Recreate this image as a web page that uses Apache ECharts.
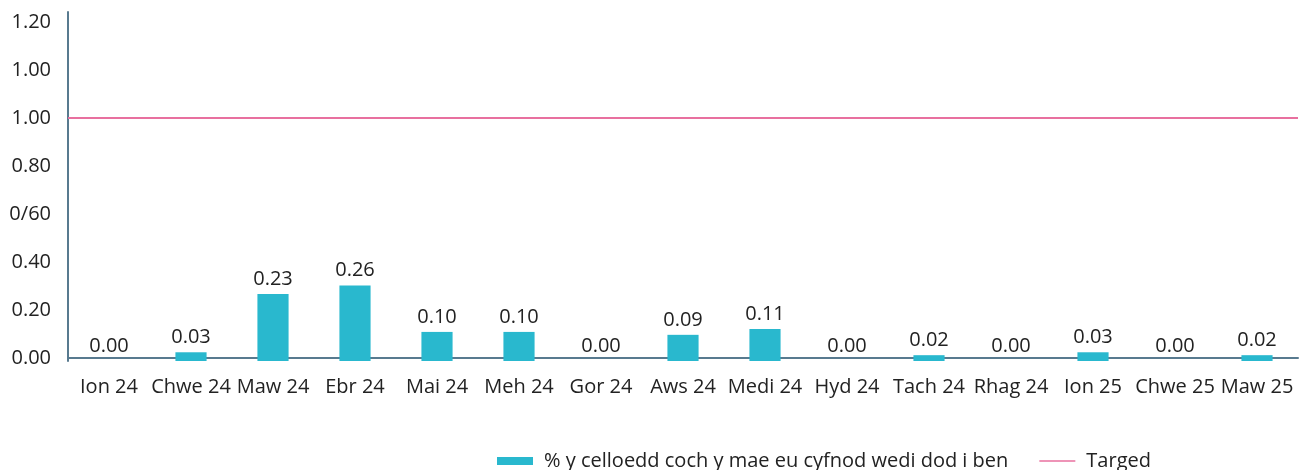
<!DOCTYPE html>
<html>
<head>
<meta charset="utf-8">
<script src="https://cdn.jsdelivr.net/npm/echarts@6/dist/echarts.min.js"></script>
<style>
  html, body { margin: 0; padding: 0; background: #fff; }
  #chart { width: 1310px; height: 470px; }
</style>
</head>
<body>
<div id="chart"></div>
<script>
// categories (months)
const months = ['Ion 24', 'Chwe 24', 'Maw 24', 'Ebr 24', 'Mai 24', 'Meh 24', 'Gor 24', 'Aws 24',
  'Medi 24', 'Hyd 24', 'Tach 24', 'Rhag 24', 'Ion 25', 'Chwe 25', 'Maw 25'];
// % y celloedd coch ...
const redCellPct = [0.00, 0.03, 0.23, 0.26, 0.10, 0.10, 0.00, 0.09, 0.11, 0.00, 0.02, 0.00, 0.03, 0.00, 0.02];
// targed
const target = [1, 1, 1, 1, 1, 1, 1, 1, 1, 1, 1, 1, 1, 1, 1];
// y axis ticks, labels kept as printed in the original
const yTicks = [0, 0.2, 0.4, 0.6, 0.8, 1.0, 1.2, 1.4];
const yTickLabels = ['0.00', '0.20', '0.40', '0/60', '0.80', '1.00', '1.00', '1.20'];

const barName = '% y celloedd coch y mae eu cyfnod wedi dod i ben';
const lineName = 'Targed';
const font = 'Open Sans';

let myChart = echarts.init(document.getElementById('chart'));
myChart.setOption({
    animation: false,
    textStyle: { fontFamily: font },
    grid: { left: 68, right: 12, top: 12, bottom: 109 },
    legend: {
        left: 492,
        top: 446,
        itemWidth: 36,
        itemHeight: 8,
        itemGap: 31,
        textStyle: { fontSize: 20, color: '#222', fontFamily: font, padding: [0, 0, 0, 6] },
        data: [
            { name: barName, icon: 'rect' },
            { name: lineName, icon: 'path://M0,0H36V1.6H0Z' }
        ]
    },
    xAxis: [{
        type: 'category',
        data: months,
        axisLine: { lineStyle: { color: '#587a8f', width: 2 } },
        axisTick: { show: false },
        axisLabel: { color: '#222', fontSize: 20, margin: 16, interval: 0 }
    }, {
        // helper axis so the target line runs edge to edge
        type: 'category',
        data: months,
        boundaryGap: false,
        show: false
    }],
    yAxis: [{
        type: 'value',
        min: -0.0125,
        max: 1.4417,
        axisLine: { show: true, lineStyle: { color: '#587a8f', width: 2 } },
        axisTick: { show: false },
        splitLine: { show: false },
        axisLabel: {
            color: '#222',
            fontSize: 20,
            margin: 17,
            customValues: yTicks,
            formatter: function (v) {
                let i = yTicks.findIndex(t => Math.abs(t - v) < 1e-6);
                return i >= 0 ? yTickLabels[i] : '';
            }
        }
    }, {
        type: 'value',
        min: 0,
        max: 1.2,
        show: false
    }],
    series: [{
        name: barName,
        type: 'bar',
        yAxisIndex: 1,
        data: redCellPct,
        barWidth: '38%',
        itemStyle: { color: '#29b8ce' },
        label: {
            show: true,
            position: 'top',
            distance: 5,
            color: '#222',
            fontSize: 20,
            formatter: p => p.value.toFixed(2)
        }
    }, {
        name: lineName,
        type: 'line',
        xAxisIndex: 1,
        yAxisIndex: 0,
        data: target,
        symbol: 'none',
        lineStyle: { color: '#e8709f', width: 2 },
        itemStyle: { color: '#e8709f' },
        z: 1
    }]
});
</script>
</body>
</html>
